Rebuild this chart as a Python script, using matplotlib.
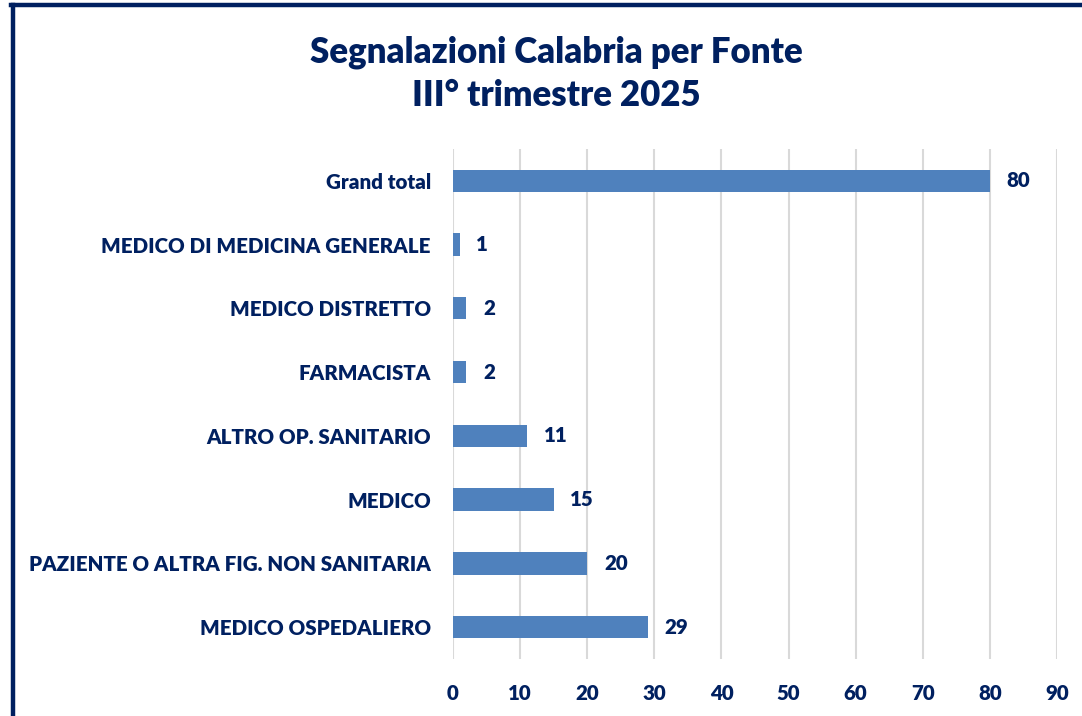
import matplotlib.pyplot as plt
from matplotlib.lines import Line2D

categories = [
    'Grand total',
    'MEDICO DI MEDICINA GENERALE',
    'MEDICO DISTRETTO',
    'FARMACISTA',
    'ALTRO OP. SANITARIO',
    'MEDICO',
    'PAZIENTE O ALTRA FIG. NON SANITARIA',
    'MEDICO OSPEDALIERO',
]
values = [80, 1, 2, 2, 11, 15, 20, 29]
xticks = list(range(0, 100, 10))

NAVY = '#002060'
BAR = '#4F81BD'
GRID = '#D9D9D9'

plt.rcParams['font.family'] = ['Lato', 'DejaVu Sans']
W = 'heavy'

fig = plt.figure(figsize=(10.82, 7.16), dpi=100)
ax = fig.add_axes([0.4187, 0.0796, 0.5582, 0.7124])

y = list(range(len(categories)))
ax.barh(y, values, height=0.35, color=BAR, zorder=3)
ax.set_ylim(len(categories) - 0.5, -0.5)
ax.set_xlim(0, 90)
ax.set_xticks(xticks)
ax.set_yticks(y)
ax.set_yticklabels(categories)
ax.tick_params(axis='both', length=0, colors=NAVY, labelsize=14.8)
ax.tick_params(axis='x', pad=18)
ax.tick_params(axis='y', pad=16)
for lab in ax.get_xticklabels() + ax.get_yticklabels():
    lab.set_fontweight(W)
ax.grid(axis='x', color=GRID, linewidth=1.5, zorder=0)
for s in ax.spines.values():
    s.set_visible(False)

for yi, v in zip(y, values):
    ax.annotate(str(v), (v, yi), xytext=(12, 0), textcoords='offset points',
                va='center', ha='left', color=NAVY, fontsize=14.8, fontweight=W)

fig.text(0.514, 0.897, 'Segnalazioni Calabria per Fonte\nIII° trimestre 2025',
         ha='center', va='center', color=NAVY, fontsize=25, fontweight=W,
         linespacing=1.38)

# frame border (left and top edges)
fig.add_artist(Line2D([0.0120, 0.0120], [0, 0.9930], transform=fig.transFigure,
                      color=NAVY, linewidth=3.2))
fig.add_artist(Line2D([0.0105, 1.0], [0.9930, 0.9930], transform=fig.transFigure,
                      color=NAVY, linewidth=3.2))

fig.savefig('out.png', dpi=100, facecolor='white')
